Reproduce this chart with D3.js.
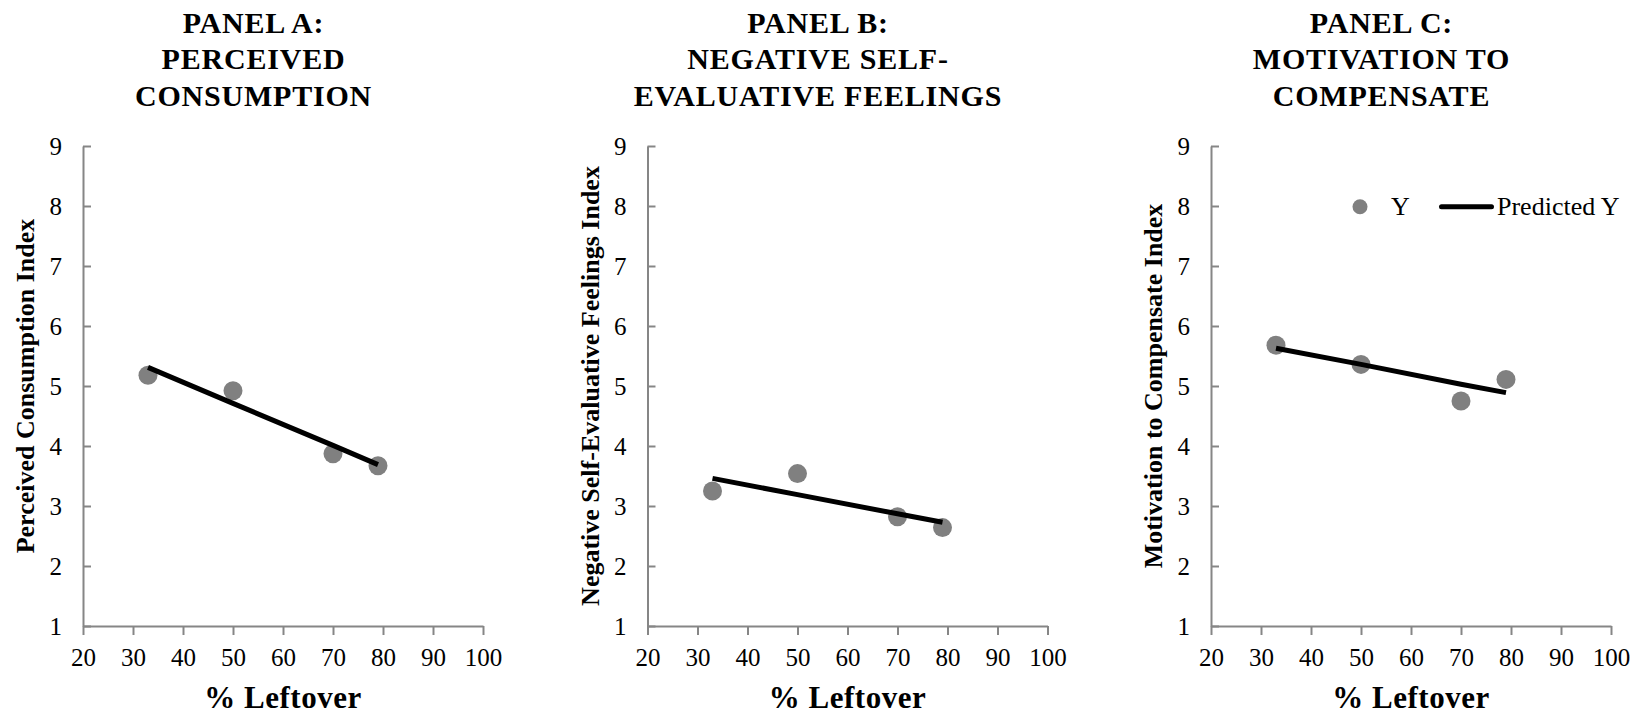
<!DOCTYPE html>
<html>
<head>
<meta charset="utf-8">
<script src="https://cdn.jsdelivr.net/npm/d3@7"></script>
<style>
    body { margin: 0; background: #fff; }
</style>
</head>
<body>
<div id="chart"></div>
<script>
var width = 1642
var height = 716
var serif = '"Liberation Serif", "Times New Roman", Times, serif'

// x values shared by all panels
var leftover = [33, 50, 70, 79]

var xTicks = [20, 30, 40, 50, 60, 70, 80, 90, 100]
var yTicks = [1, 2, 3, 4, 5, 6, 7, 8, 9]

var titles = [
    ['PANEL A:', 'PERCEIVED', 'CONSUMPTION'],
    ['PANEL B:', 'NEGATIVE SELF-', 'EVALUATIVE FEELINGS'],
    ['PANEL C:', 'MOTIVATION TO', 'COMPENSATE']
]
var yLabels = [
    'Perceived Consumption Index',
    'Negative Self-Evaluative Feelings Index',
    'Motivation to Compensate Index'
]

// observed means (Y)
var perceivedY = [5.18, 4.92, 3.87, 3.67]
var negativeY = [3.25, 3.54, 2.82, 2.64]
var motivationY = [5.68, 5.36, 4.75, 5.11]

// fitted values (Predicted Y)
var perceivedPred = [5.31, 4.71, 4.01, 3.69]
var negativePred = [3.46, 3.19, 2.87, 2.73]
var motivationPred = [5.63, 5.36, 5.03, 4.89]

var observed = [perceivedY, negativeY, motivationY]
var predicted = [perceivedPred, negativePred, motivationPred]

var legendLabels = ['Y', 'Predicted Y']

var panelLeft = [83, 647.5, 1211]
var plotW = 400
var plotTop = 146
var plotBottom = 626

var svg = d3.select('#chart').append('svg')
    .attr('width', width)
    .attr('height', height)
    .style('display', 'block')
    .style('font-family', serif)

function styleAxis(a) {
    a.attr('font-family', serif).attr('font-size', 25)
    a.selectAll('path, line')
        .style('stroke', '#868686')
        .style('stroke-width', 2)
    a.selectAll('text')
        .style('font-family', serif)
        .style('font-size', '25px')
        .style('fill', '#000')
}

titles.forEach(function(t, i) {
    var left = panelLeft[i]

    var x = d3.scaleLinear().domain([20, 100]).range([left, left + plotW])
    var y = d3.scaleLinear().domain([1, 9]).range([plotBottom, plotTop])

    var g = svg.append('g')

    // title, three lines
    g.append('text')
        .attr('text-anchor', 'middle')
        .style('font-family', serif)
        .style('font-size', '30px')
        .style('font-weight', 'bold')
        .style('letter-spacing', '0.8px')
        .selectAll('tspan')
        .data(t)
        .enter().append('tspan')
        .attr('x', left + 170.5)
        .attr('y', function(d, k) { return 32.5 + k * 36.6 })
        .text(function(d) { return d })

    // y axis, ticks pointing inside
    g.append('g')
        .attr('transform', 'translate(' + left + ',0)')
        .call(d3.axisRight(y).tickValues(yTicks).tickSize(8).tickSizeOuter(0).tickFormat(d3.format('d')))
        .call(styleAxis)
        .call(function(a) {
            a.selectAll('text')
                .attr('x', -21)
                .attr('dy', '0.34em')
                .attr('text-anchor', 'end')
        })

    // x axis, ticks pointing down
    g.append('g')
        .attr('transform', 'translate(0,' + plotBottom + ')')
        .call(d3.axisBottom(x).tickValues(xTicks).tickSize(9).tickSizeOuter(0).tickFormat(d3.format('d')))
        .call(styleAxis)
        .call(function(a) {
            a.selectAll('text').attr('y', 40).attr('dy', 0)
        })

    g.append('text')
        .attr('transform', 'translate(' + (left - 58) + ',' + ((plotTop + plotBottom) / 2) + ') rotate(-90)')
        .attr('text-anchor', 'middle')
        .attr('dy', '0.35em')
        .style('font-family', serif)
        .style('font-size', '26px')
        .style('font-weight', 'bold')
        .text(yLabels[i])

    g.append('text')
        .attr('x', left + plotW / 2)
        .attr('y', 708)
        .attr('text-anchor', 'middle')
        .style('font-family', serif)
        .style('font-size', '31px')
        .style('font-weight', 'bold')
        .style('letter-spacing', '0.5px')
        .text('% Leftover')

    // points
    g.selectAll('.dot')
        .data(observed[i])
        .enter().append('circle')
        .attr('class', 'dot')
        .attr('cx', function(d, k) { return x(leftover[k]) })
        .attr('cy', function(d) { return y(d) })
        .attr('r', 9.5)
        .style('fill', '#808080')

    // fitted line
    var line = d3.line()
        .x(function(d, k) { return x(leftover[k]) })
        .y(function(d) { return y(d) })

    g.append('path')
        .datum(predicted[i])
        .attr('d', line)
        .style('fill', 'none')
        .style('stroke', '#000')
        .style('stroke-width', 5)

    // legend only in the last panel
    if (i === 2) {
        var lg = g.append('g')
            .attr('transform', 'translate(' + left + ',206.7)')
        lg.append('circle')
            .attr('cx', 149)
            .attr('cy', 0)
            .attr('r', 7.5)
            .style('fill', '#808080')
        lg.append('text')
            .attr('x', 180)
            .attr('y', 8.5)
            .style('font-family', serif)
            .style('font-size', '26px')
            .text(legendLabels[0])
        lg.append('line')
            .attr('x1', 230.5)
            .attr('x2', 280.5)
            .attr('y1', 0)
            .attr('y2', 0)
            .style('stroke', '#000')
            .style('stroke-width', 5)
            .style('stroke-linecap', 'round')
        lg.append('text')
            .attr('x', 286)
            .attr('y', 8.5)
            .style('font-family', serif)
            .style('font-size', '26px')
            .text(legendLabels[1])
    }
})
</script>
</body>
</html>
